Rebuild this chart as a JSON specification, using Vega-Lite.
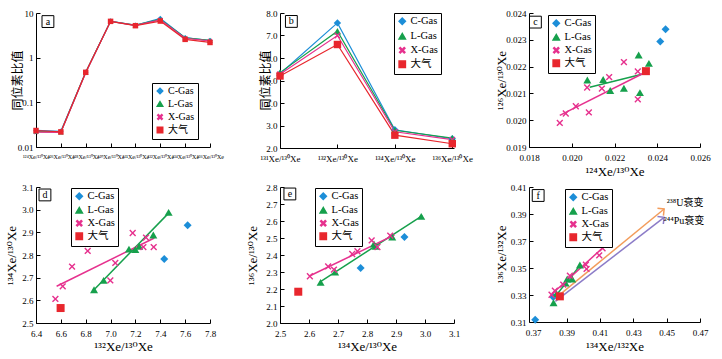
{
 "$schema": "https://vega.github.io/schema/vega-lite/v6.json",
 "background": "white",
 "padding": {"left": 5, "top": 9, "right": 2, "bottom": 2},
 "datasets": {
  "a": [
   {"type": "C-Gas", "x": 1, "y": 0.0235}, {"type": "C-Gas", "x": 2, "y": 0.0225}, {"type": "C-Gas", "x": 3, "y": 0.47}, {"type": "C-Gas", "x": 4, "y": 6.6}, {"type": "C-Gas", "x": 5, "y": 5.3}, {"type": "C-Gas", "x": 6, "y": 7.56}, {"type": "C-Gas", "x": 7, "y": 2.81}, {"type": "C-Gas", "x": 8, "y": 2.41},
   {"type": "L-Gas", "x": 1, "y": 0.0222}, {"type": "L-Gas", "x": 2, "y": 0.0215}, {"type": "L-Gas", "x": 3, "y": 0.47}, {"type": "L-Gas", "x": 4, "y": 6.5}, {"type": "L-Gas", "x": 5, "y": 5.35}, {"type": "L-Gas", "x": 6, "y": 7.19}, {"type": "L-Gas", "x": 7, "y": 2.79}, {"type": "L-Gas", "x": 8, "y": 2.44},
   {"type": "X-Gas", "x": 1, "y": 0.0215}, {"type": "X-Gas", "x": 2, "y": 0.0212}, {"type": "X-Gas", "x": 3, "y": 0.46}, {"type": "X-Gas", "x": 4, "y": 6.5}, {"type": "X-Gas", "x": 5, "y": 5.28}, {"type": "X-Gas", "x": 6, "y": 7.0}, {"type": "X-Gas", "x": 7, "y": 2.72}, {"type": "X-Gas", "x": 8, "y": 2.37},
   {"type": "大气", "x": 1, "y": 0.0234}, {"type": "大气", "x": 2, "y": 0.0218}, {"type": "大气", "x": 3, "y": 0.47}, {"type": "大气", "x": 4, "y": 6.5}, {"type": "大气", "x": 5, "y": 5.2}, {"type": "大气", "x": 6, "y": 6.6}, {"type": "大气", "x": 7, "y": 2.57}, {"type": "大气", "x": 8, "y": 2.19}
  ],
  "b": [
   {"type": "C-Gas", "x": 1, "y": 5.3}, {"type": "C-Gas", "x": 2, "y": 7.56}, {"type": "C-Gas", "x": 3, "y": 2.81}, {"type": "C-Gas", "x": 4, "y": 2.41},
   {"type": "L-Gas", "x": 1, "y": 5.35}, {"type": "L-Gas", "x": 2, "y": 7.19}, {"type": "L-Gas", "x": 3, "y": 2.79}, {"type": "L-Gas", "x": 4, "y": 2.44},
   {"type": "X-Gas", "x": 1, "y": 5.28}, {"type": "X-Gas", "x": 2, "y": 7.0}, {"type": "X-Gas", "x": 3, "y": 2.72}, {"type": "X-Gas", "x": 4, "y": 2.37},
   {"type": "大气", "x": 1, "y": 5.2}, {"type": "大气", "x": 2, "y": 6.6}, {"type": "大气", "x": 3, "y": 2.57}, {"type": "大气", "x": 4, "y": 2.19}
  ],
  "c": [
   {"type": "C-Gas", "x": 0.02439, "y": 0.02339}, {"type": "C-Gas", "x": 0.02414, "y": 0.02294},
   {"type": "L-Gas", "x": 0.02073, "y": 0.0215}, {"type": "L-Gas", "x": 0.02147, "y": 0.02152}, {"type": "L-Gas", "x": 0.0218, "y": 0.02111}, {"type": "L-Gas", "x": 0.02244, "y": 0.02119}, {"type": "L-Gas", "x": 0.02313, "y": 0.02243}, {"type": "L-Gas", "x": 0.02319, "y": 0.02103}, {"type": "L-Gas", "x": 0.02361, "y": 0.02212},
   {"type": "X-Gas", "x": 0.01944, "y": 0.0199}, {"type": "X-Gas", "x": 0.01972, "y": 0.02025}, {"type": "X-Gas", "x": 0.02019, "y": 0.02052}, {"type": "X-Gas", "x": 0.0208, "y": 0.02029}, {"type": "X-Gas", "x": 0.02072, "y": 0.02122}, {"type": "X-Gas", "x": 0.02141, "y": 0.02118}, {"type": "X-Gas", "x": 0.02175, "y": 0.02161}, {"type": "X-Gas", "x": 0.02244, "y": 0.02217}, {"type": "X-Gas", "x": 0.02309, "y": 0.02182}, {"type": "X-Gas", "x": 0.02309, "y": 0.02078},
   {"type": "大气", "x": 0.02347, "y": 0.02183}
  ],
  "cfit": [
   {"type": "L-Gas", "x": 0.02084, "y": 0.02123}, {"type": "L-Gas", "x": 0.02347, "y": 0.02175},
   {"type": "X-Gas", "x": 0.01944, "y": 0.02018}, {"type": "X-Gas", "x": 0.02347, "y": 0.0218}
  ],
  "d": [
   {"type": "C-Gas", "x": 7.62, "y": 2.931}, {"type": "C-Gas", "x": 7.432, "y": 2.782},
   {"type": "L-Gas", "x": 6.867, "y": 2.647}, {"type": "L-Gas", "x": 6.944, "y": 2.688}, {"type": "L-Gas", "x": 7.148, "y": 2.826}, {"type": "L-Gas", "x": 7.199, "y": 2.824}, {"type": "L-Gas", "x": 7.231, "y": 2.838}, {"type": "L-Gas", "x": 7.344, "y": 2.888}, {"type": "L-Gas", "x": 7.467, "y": 2.988},
   {"type": "X-Gas", "x": 6.556, "y": 2.606}, {"type": "X-Gas", "x": 6.615, "y": 2.662}, {"type": "X-Gas", "x": 6.69, "y": 2.749}, {"type": "X-Gas", "x": 6.816, "y": 2.818}, {"type": "X-Gas", "x": 7.038, "y": 2.765}, {"type": "X-Gas", "x": 6.998, "y": 2.688}, {"type": "X-Gas", "x": 7.178, "y": 2.897}, {"type": "X-Gas", "x": 7.264, "y": 2.835}, {"type": "X-Gas", "x": 7.285, "y": 2.877}, {"type": "X-Gas", "x": 7.347, "y": 2.835},
   {"type": "大气", "x": 6.598, "y": 2.566}
  ],
  "dfit": [
   {"type": "L-Gas", "x": 6.867, "y": 2.647}, {"type": "L-Gas", "x": 7.473, "y": 2.988},
   {"type": "X-Gas", "x": 6.566, "y": 2.662}, {"type": "X-Gas", "x": 7.352, "y": 2.875}
  ],
  "e": [
   {"type": "C-Gas", "x": 2.929, "y": 2.506}, {"type": "C-Gas", "x": 2.778, "y": 2.324},
   {"type": "L-Gas", "x": 2.64, "y": 2.239}, {"type": "L-Gas", "x": 2.69, "y": 2.3}, {"type": "L-Gas", "x": 2.824, "y": 2.465}, {"type": "L-Gas", "x": 2.83, "y": 2.451}, {"type": "L-Gas", "x": 2.887, "y": 2.506}, {"type": "L-Gas", "x": 2.987, "y": 2.627},
   {"type": "X-Gas", "x": 2.603, "y": 2.275}, {"type": "X-Gas", "x": 2.666, "y": 2.333}, {"type": "X-Gas", "x": 2.686, "y": 2.314}, {"type": "X-Gas", "x": 2.749, "y": 2.406}, {"type": "X-Gas", "x": 2.767, "y": 2.422}, {"type": "X-Gas", "x": 2.816, "y": 2.486}, {"type": "X-Gas", "x": 2.836, "y": 2.447}, {"type": "X-Gas", "x": 2.88, "y": 2.514},
   {"type": "大气", "x": 2.563, "y": 2.184}
  ],
  "efit": [
   {"type": "L-Gas", "x": 2.637, "y": 2.241}, {"type": "L-Gas", "x": 2.991, "y": 2.631},
   {"type": "X-Gas", "x": 2.6, "y": 2.275}, {"type": "X-Gas", "x": 2.895, "y": 2.518}
  ],
  "f": [
   {"type": "C-Gas", "x": 0.3712, "y": 0.3117}, {"type": "C-Gas", "x": 0.382, "y": 0.3285},
   {"type": "L-Gas", "x": 0.3822, "y": 0.3243}, {"type": "L-Gas", "x": 0.384, "y": 0.331}, {"type": "L-Gas", "x": 0.3894, "y": 0.3389}, {"type": "L-Gas", "x": 0.3904, "y": 0.3419}, {"type": "L-Gas", "x": 0.3934, "y": 0.3419}, {"type": "L-Gas", "x": 0.398, "y": 0.3522},
   {"type": "X-Gas", "x": 0.381, "y": 0.3302}, {"type": "X-Gas", "x": 0.383, "y": 0.3332}, {"type": "X-Gas", "x": 0.388, "y": 0.3377}, {"type": "X-Gas", "x": 0.392, "y": 0.3443}, {"type": "X-Gas", "x": 0.4016, "y": 0.3525}, {"type": "X-Gas", "x": 0.402, "y": 0.3493}, {"type": "X-Gas", "x": 0.4096, "y": 0.3594}, {"type": "X-Gas", "x": 0.4116, "y": 0.3646},
   {"type": "大气", "x": 0.386, "y": 0.329}
  ],
  "ffit": [
   {"type": "L-Gas", "x": 0.382, "y": 0.327}, {"type": "L-Gas", "x": 0.3986, "y": 0.3527},
   {"type": "X-Gas", "x": 0.3806, "y": 0.33}, {"type": "X-Gas", "x": 0.412, "y": 0.3653}
  ],
  "farrow": [
   {"name": "U", "x": 0.3827, "y": 0.327, "end": 0}, {"name": "U", "x": 0.4485, "y": 0.3937, "end": 1},
   {"name": "Pu", "x": 0.3833, "y": 0.3253, "end": 0}, {"name": "Pu", "x": 0.4485, "y": 0.3875, "end": 1}
  ],
  "ftext": [
   {"name": "U", "x": 0.4501, "y": 0.3981, "t": "²³⁸U衰变"},
   {"name": "Pu", "x": 0.4483, "y": 0.3848, "t": "²⁴⁴Pu衰变"}
  ],
  "la": [{"x": 1.48, "y": 6.43, "t": "a"}],
  "lb": [{"x": 1.198, "y": 7.625, "t": "b"}],
  "lc": [{"x": 0.0183, "y": 0.02366, "t": "c"}],
  "ld": [{"x": 6.472, "y": 3.065, "t": "d"}],
  "le": [{"x": 2.534, "y": 2.759, "t": "e"}],
  "lf": [{"x": 0.373, "y": 0.4037, "t": "f"}]
 },
 "columns": 3,
 "align": "each",
 "spacing": {"row": 5, "column": 22},
 "resolve": {
  "scale": {"color": "independent", "shape": "independent"},
  "legend": {"color": "independent", "shape": "independent"}
 },
 "concat": [
  {
   "width": 174, "height": 134,
   "layer": [
    {"data": {"name": "a"}, "mark": {"type": "line", "strokeWidth": 1.2},
     "encoding": {
      "x": {"field": "x", "type": "quantitative", "scale": {"domain": [1, 8], "nice": false, "zero": false},
            "axis": {"title": null, "values": [1, 2, 3, 4, 5, 6, 7, 8], "tickCount": 30, "labelFontSize": 6, "labelOverlap": false, "labelFlush": false, "labelExpr": "['¹²⁴Xe/¹³⁰Xe','¹²⁶Xe/¹³⁰Xe','¹²⁸Xe/¹³⁰Xe','¹²⁹Xe/¹³⁰Xe','¹³¹Xe/¹³⁰Xe','¹³²Xe/¹³⁰Xe','¹³⁴Xe/¹³⁰Xe','¹³⁶Xe/¹³⁰Xe'][datum.value-1]"}},
      "y": {"field": "y", "type": "quantitative", "scale": {"type": "log", "domain": [0.01, 10], "nice": false},
            "axis": {"title": "同位素比值", "titleFont": "Noto Sans CJK SC", "titleFontSize": 12, "titleX": -19, "titleY": 67, "titleBaseline": "middle", "values": [0.01, 0.1, 1, 10], "tickCount": 30, "format": "~g", "labelOverlap": false}},
      "color": {"field": "type", "type": "nominal", "scale": {"domain": ["C-Gas", "L-Gas", "X-Gas", "大气"], "range": ["#1c8ed8", "#16a04c", "#e6318e", "#e8262d"]}}
     }},
    {"data": {"name": "a"}, "mark": {"type": "point", "filled": true, "size": 30, "opacity": 1},
     "encoding": {
      "x": {"field": "x", "type": "quantitative"},
      "y": {"field": "y", "type": "quantitative"},
      "color": {"field": "type", "type": "nominal", "legend": {"title": null, "orient": "none", "legendX": 116, "legendY": 70, "strokeColor": "black", "fillColor": "white", "padding": 3, "labelFont": "Liberation Serif, Noto Sans CJK SC", "labelFontSize": 10, "symbolSize": 30, "rowPadding": 1, "labelOffset": 3}},
      "shape": {"field": "type", "type": "nominal", "scale": {"domain": ["C-Gas", "L-Gas", "X-Gas", "大气"], "range": ["diamond", "triangle-up", "M-0.85,-0.6L-0.6,-0.85L0,-0.25L0.6,-0.85L0.85,-0.6L0.25,0L0.85,0.6L0.6,0.85L0,0.25L-0.6,0.85L-0.85,0.6L-0.25,0Z", "square"]}, "legend": {"title": null, "orient": "none", "legendX": 116, "legendY": 70, "strokeColor": "black", "fillColor": "white", "padding": 3, "labelFont": "Liberation Serif, Noto Sans CJK SC", "labelFontSize": 10, "symbolSize": 30, "rowPadding": 1, "labelOffset": 3}}
     }},
    {"data": {"name": "la"}, "mark": {"type": "point", "shape": "square", "filled": false, "stroke": "black", "strokeWidth": 1, "size": 140, "opacity": 1},
     "encoding": {"x": {"field": "x", "type": "quantitative"}, "y": {"field": "y", "type": "quantitative"}}},
    {"data": {"name": "la"}, "mark": {"type": "text", "fontSize": 10, "font": "Liberation Serif", "color": "black"},
     "encoding": {"x": {"field": "x", "type": "quantitative"}, "y": {"field": "y", "type": "quantitative"}, "text": {"field": "t"}}}
   ]
  },
  {
   "width": 174, "height": 135,
   "layer": [
    {"data": {"name": "b"}, "mark": {"type": "line", "strokeWidth": 1.2},
     "encoding": {
      "x": {"field": "x", "type": "quantitative", "scale": {"domain": [1, 4.03], "nice": false, "zero": false},
            "axis": {"title": null, "values": [1, 2, 3, 4], "tickCount": 30, "labelFontSize": 9, "labelOverlap": false, "labelFlush": false, "labelExpr": "['¹³¹Xe/¹³⁰Xe','¹³²Xe/¹³⁰Xe','¹³⁴Xe/¹³⁰Xe','¹³⁶Xe/¹³⁰Xe'][datum.value-1]"}},
      "y": {"field": "y", "type": "quantitative", "scale": {"domain": [2, 8], "nice": false, "zero": false},
            "axis": {"title": "同位素比值", "titleFont": "Noto Sans CJK SC", "titleFontSize": 12, "titleX": -15, "titleY": 67, "titleBaseline": "middle", "values": [2, 3, 4, 5, 6, 7, 8], "tickCount": 30, "labelOverlap": false}},
      "color": {"field": "type", "type": "nominal", "scale": {"domain": ["C-Gas", "L-Gas", "X-Gas", "大气"], "range": ["#1c8ed8", "#16a04c", "#e6318e", "#e8262d"]}}
     }},
    {"data": {"name": "b"}, "mark": {"type": "point", "filled": true, "size": 55, "opacity": 1},
     "encoding": {
      "x": {"field": "x", "type": "quantitative"},
      "y": {"field": "y", "type": "quantitative"},
      "color": {"field": "type", "type": "nominal", "legend": {"title": null, "orient": "none", "legendX": 114, "legendY": 0, "strokeColor": "black", "fillColor": "white", "padding": 3, "labelFont": "Liberation Serif, Noto Sans CJK SC", "labelFontSize": 10.5, "symbolSize": 40, "rowPadding": 2, "labelOffset": 3}},
      "shape": {"field": "type", "type": "nominal", "scale": {"domain": ["C-Gas", "L-Gas", "X-Gas", "大气"], "range": ["diamond", "triangle-up", "M-0.85,-0.6L-0.6,-0.85L0,-0.25L0.6,-0.85L0.85,-0.6L0.25,0L0.85,0.6L0.6,0.85L0,0.25L-0.6,0.85L-0.85,0.6L-0.25,0Z", "square"]}, "legend": {"title": null, "orient": "none", "legendX": 114, "legendY": 0, "strokeColor": "black", "fillColor": "white", "padding": 3, "labelFont": "Liberation Serif, Noto Sans CJK SC", "labelFontSize": 10.5, "symbolSize": 40, "rowPadding": 2, "labelOffset": 3}}
     }},
    {"data": {"name": "lb"}, "mark": {"type": "point", "shape": "square", "filled": false, "stroke": "black", "strokeWidth": 1, "size": 140, "opacity": 1},
     "encoding": {"x": {"field": "x", "type": "quantitative"}, "y": {"field": "y", "type": "quantitative"}}},
    {"data": {"name": "lb"}, "mark": {"type": "text", "fontSize": 10, "font": "Liberation Serif", "color": "black"},
     "encoding": {"x": {"field": "x", "type": "quantitative"}, "y": {"field": "y", "type": "quantitative"}, "text": {"field": "t"}}}
   ]
  },
  {
   "width": 171, "height": 134,
   "layer": [
    {"data": {"name": "cfit"}, "mark": {"type": "line", "strokeWidth": 1.5},
     "encoding": {
      "x": {"field": "x", "type": "quantitative", "scale": {"domain": [0.018, 0.026], "nice": false, "zero": false},
            "axis": {"title": "¹²⁴Xe/¹³⁰Xe", "titleX": 85.5, "titleY": 24, "titleBaseline": "middle", "values": [0.018, 0.02, 0.022, 0.024, 0.026], "tickCount": 30, "format": ".3f", "labelOverlap": false, "labelFlush": false}},
      "y": {"field": "y", "type": "quantitative", "scale": {"domain": [0.019, 0.024], "nice": false, "zero": false},
            "axis": {"title": "¹²⁶Xe/¹³⁰Xe", "titleX": -27.5, "titleY": 67, "titleBaseline": "middle", "values": [0.019, 0.02, 0.021, 0.022, 0.023, 0.024], "tickCount": 30, "format": ".3f", "labelOverlap": false}},
      "color": {"field": "type", "type": "nominal", "scale": {"domain": ["C-Gas", "L-Gas", "X-Gas", "大气"], "range": ["#1c8ed8", "#16a04c", "#e6318e", "#e8262d"]}}
     }},
    {"data": {"name": "c"}, "mark": {"type": "point", "filled": true, "size": 64, "opacity": 1},
     "encoding": {
      "x": {"field": "x", "type": "quantitative"},
      "y": {"field": "y", "type": "quantitative"},
      "color": {"field": "type", "type": "nominal", "legend": {"title": null, "orient": "none", "legendX": 19, "legendY": 2, "strokeColor": "black", "fillColor": "white", "padding": 3, "labelFont": "Liberation Serif, Noto Sans CJK SC", "labelFontSize": 10.5, "symbolSize": 40, "rowPadding": 1, "labelOffset": 3}},
      "shape": {"field": "type", "type": "nominal", "scale": {"domain": ["C-Gas", "L-Gas", "X-Gas", "大气"], "range": ["diamond", "triangle-up", "M-0.85,-0.6L-0.6,-0.85L0,-0.25L0.6,-0.85L0.85,-0.6L0.25,0L0.85,0.6L0.6,0.85L0,0.25L-0.6,0.85L-0.85,0.6L-0.25,0Z", "square"]}, "legend": {"title": null, "orient": "none", "legendX": 19, "legendY": 2, "strokeColor": "black", "fillColor": "white", "padding": 3, "labelFont": "Liberation Serif, Noto Sans CJK SC", "labelFontSize": 10.5, "symbolSize": 40, "rowPadding": 1, "labelOffset": 3}}
     }},
    {"data": {"name": "lc"}, "mark": {"type": "point", "shape": "square", "filled": false, "stroke": "black", "strokeWidth": 1, "size": 140, "opacity": 1},
     "encoding": {"x": {"field": "x", "type": "quantitative"}, "y": {"field": "y", "type": "quantitative"}}},
    {"data": {"name": "lc"}, "mark": {"type": "text", "fontSize": 10, "font": "Liberation Serif", "color": "black"},
     "encoding": {"x": {"field": "x", "type": "quantitative"}, "y": {"field": "y", "type": "quantitative"}, "text": {"field": "t"}}}
   ]
  },
  {
   "width": 174, "height": 136,
   "layer": [
    {"data": {"name": "dfit"}, "mark": {"type": "line", "strokeWidth": 1.5},
     "encoding": {
      "x": {"field": "x", "type": "quantitative", "scale": {"domain": [6.4, 7.8], "nice": false, "zero": false},
            "axis": {"title": "¹³²Xe/¹³⁰Xe", "titleX": 87, "titleY": 23, "titleBaseline": "middle", "values": [6.4, 6.6, 6.8, 7.0, 7.2, 7.4, 7.6, 7.8], "tickCount": 30, "format": ".1f", "labelOverlap": false, "labelFlush": false}},
      "y": {"field": "y", "type": "quantitative", "scale": {"domain": [2.5, 3.1], "nice": false, "zero": false},
            "axis": {"title": "¹³⁴Xe/¹³⁰Xe", "titleX": -25, "titleY": 68, "titleBaseline": "middle", "values": [2.5, 2.6, 2.7, 2.8, 2.9, 3.0, 3.1], "tickCount": 30, "format": ".1f", "labelOverlap": false}},
      "color": {"field": "type", "type": "nominal", "scale": {"domain": ["C-Gas", "L-Gas", "X-Gas", "大气"], "range": ["#1c8ed8", "#16a04c", "#e6318e", "#e8262d"]}}
     }},
    {"data": {"name": "d"}, "mark": {"type": "point", "filled": true, "size": 64, "opacity": 1},
     "encoding": {
      "x": {"field": "x", "type": "quantitative"},
      "y": {"field": "y", "type": "quantitative"},
      "color": {"field": "type", "type": "nominal", "legend": {"title": null, "orient": "none", "legendX": 35, "legendY": 1, "strokeColor": "black", "fillColor": "white", "padding": 3, "labelFont": "Liberation Serif, Noto Sans CJK SC", "labelFontSize": 10.5, "symbolSize": 40, "rowPadding": 1, "labelOffset": 3}},
      "shape": {"field": "type", "type": "nominal", "scale": {"domain": ["C-Gas", "L-Gas", "X-Gas", "大气"], "range": ["diamond", "triangle-up", "M-0.85,-0.6L-0.6,-0.85L0,-0.25L0.6,-0.85L0.85,-0.6L0.25,0L0.85,0.6L0.6,0.85L0,0.25L-0.6,0.85L-0.85,0.6L-0.25,0Z", "square"]}, "legend": {"title": null, "orient": "none", "legendX": 35, "legendY": 1, "strokeColor": "black", "fillColor": "white", "padding": 3, "labelFont": "Liberation Serif, Noto Sans CJK SC", "labelFontSize": 10.5, "symbolSize": 40, "rowPadding": 1, "labelOffset": 3}}
     }},
    {"data": {"name": "ld"}, "mark": {"type": "point", "shape": "square", "filled": false, "stroke": "black", "strokeWidth": 1, "size": 140, "opacity": 1},
     "encoding": {"x": {"field": "x", "type": "quantitative"}, "y": {"field": "y", "type": "quantitative"}}},
    {"data": {"name": "ld"}, "mark": {"type": "text", "fontSize": 10, "font": "Liberation Serif", "color": "black"},
     "encoding": {"x": {"field": "x", "type": "quantitative"}, "y": {"field": "y", "type": "quantitative"}, "text": {"field": "t"}}}
   ]
  },
  {
   "width": 174, "height": 136,
   "layer": [
    {"data": {"name": "efit"}, "mark": {"type": "line", "strokeWidth": 1.5},
     "encoding": {
      "x": {"field": "x", "type": "quantitative", "scale": {"domain": [2.5, 3.1], "nice": false, "zero": false},
            "axis": {"title": "¹³⁴Xe/¹³⁰Xe", "titleX": 87, "titleY": 23, "titleBaseline": "middle", "values": [2.5, 2.6, 2.7, 2.8, 2.9, 3.0, 3.1], "tickCount": 30, "format": ".1f", "labelOverlap": false, "labelFlush": false}},
      "y": {"field": "y", "type": "quantitative", "scale": {"domain": [2.0, 2.8], "nice": false, "zero": false},
            "axis": {"title": "¹³⁶Xe/¹³⁰Xe", "titleX": -27.5, "titleY": 68, "titleBaseline": "middle", "values": [2.0, 2.1, 2.2, 2.3, 2.4, 2.5, 2.6, 2.7, 2.8], "tickCount": 30, "format": ".1f", "labelOverlap": false}},
      "color": {"field": "type", "type": "nominal", "scale": {"domain": ["C-Gas", "L-Gas", "X-Gas", "大气"], "range": ["#1c8ed8", "#16a04c", "#e6318e", "#e8262d"]}}
     }},
    {"data": {"name": "e"}, "mark": {"type": "point", "filled": true, "size": 64, "opacity": 1},
     "encoding": {
      "x": {"field": "x", "type": "quantitative"},
      "y": {"field": "y", "type": "quantitative"},
      "color": {"field": "type", "type": "nominal", "legend": {"title": null, "orient": "none", "legendX": 35, "legendY": 1, "strokeColor": "black", "fillColor": "white", "padding": 3, "labelFont": "Liberation Serif, Noto Sans CJK SC", "labelFontSize": 10.5, "symbolSize": 40, "rowPadding": 1, "labelOffset": 3}},
      "shape": {"field": "type", "type": "nominal", "scale": {"domain": ["C-Gas", "L-Gas", "X-Gas", "大气"], "range": ["diamond", "triangle-up", "M-0.85,-0.6L-0.6,-0.85L0,-0.25L0.6,-0.85L0.85,-0.6L0.25,0L0.85,0.6L0.6,0.85L0,0.25L-0.6,0.85L-0.85,0.6L-0.25,0Z", "square"]}, "legend": {"title": null, "orient": "none", "legendX": 35, "legendY": 1, "strokeColor": "black", "fillColor": "white", "padding": 3, "labelFont": "Liberation Serif, Noto Sans CJK SC", "labelFontSize": 10.5, "symbolSize": 40, "rowPadding": 1, "labelOffset": 3}}
     }},
    {"data": {"name": "le"}, "mark": {"type": "point", "shape": "square", "filled": false, "stroke": "black", "strokeWidth": 1, "size": 140, "opacity": 1},
     "encoding": {"x": {"field": "x", "type": "quantitative"}, "y": {"field": "y", "type": "quantitative"}}},
    {"data": {"name": "le"}, "mark": {"type": "text", "fontSize": 10, "font": "Liberation Serif", "color": "black"},
     "encoding": {"x": {"field": "x", "type": "quantitative"}, "y": {"field": "y", "type": "quantitative"}, "text": {"field": "t"}}}
   ]
  },
  {
   "width": 171, "height": 135,
   "layer": [
    {"data": {"name": "ffit"}, "mark": {"type": "line", "strokeWidth": 1.5},
     "encoding": {
      "x": {"field": "x", "type": "quantitative", "scale": {"domain": [0.3675, 0.47], "nice": false, "zero": false},
            "axis": {"title": "¹³⁴Xe/¹³²Xe", "titleX": 85.5, "titleY": 24, "titleBaseline": "middle", "values": [0.37, 0.39, 0.41, 0.43, 0.45, 0.47], "tickCount": 30, "format": ".2f", "labelOverlap": false, "labelFlush": false}},
      "y": {"field": "y", "type": "quantitative", "scale": {"domain": [0.31, 0.41], "nice": false, "zero": false},
            "axis": {"title": "¹³⁶Xe/¹³²Xe", "titleX": -27.5, "titleY": 67, "titleBaseline": "middle", "values": [0.31, 0.33, 0.35, 0.37, 0.39, 0.41], "tickCount": 30, "format": ".2f", "labelOverlap": false}},
      "color": {"field": "type", "type": "nominal", "scale": {"domain": ["C-Gas", "L-Gas", "X-Gas", "大气"], "range": ["#1c8ed8", "#16a04c", "#e6318e", "#e8262d"]}}
     }},
    {"data": {"name": "farrow"}, "transform": [{"filter": "datum.name === 'U'"}], "mark": {"type": "line", "strokeWidth": 1.5, "color": "#f39c5b"},
     "encoding": {"x": {"field": "x", "type": "quantitative"}, "y": {"field": "y", "type": "quantitative"}}},
    {"data": {"name": "farrow"}, "transform": [{"filter": "datum.name === 'Pu'"}], "mark": {"type": "line", "strokeWidth": 1.5, "color": "#8c7cc8"},
     "encoding": {"x": {"field": "x", "type": "quantitative"}, "y": {"field": "y", "type": "quantitative"}}},
    {"data": {"name": "farrow"}, "transform": [{"filter": "datum.name === 'U' && datum.end === 1"}], "mark": {"type": "point", "shape": "M-1,1L0,0L1,1", "filled": false, "stroke": "#f39c5b", "strokeWidth": 1.5, "size": 90, "angle": 51, "opacity": 1},
     "encoding": {"x": {"field": "x", "type": "quantitative"}, "y": {"field": "y", "type": "quantitative"}}},
    {"data": {"name": "farrow"}, "transform": [{"filter": "datum.name === 'Pu' && datum.end === 1"}], "mark": {"type": "point", "shape": "M-1,1L0,0L1,1", "filled": false, "stroke": "#8c7cc8", "strokeWidth": 1.5, "size": 90, "angle": 52, "opacity": 1},
     "encoding": {"x": {"field": "x", "type": "quantitative"}, "y": {"field": "y", "type": "quantitative"}}},
    {"data": {"name": "ftext"}, "mark": {"type": "text", "align": "left", "baseline": "middle", "fontSize": 10, "font": "Liberation Serif, Noto Sans CJK SC", "color": "black"},
     "encoding": {"x": {"field": "x", "type": "quantitative"}, "y": {"field": "y", "type": "quantitative"}, "text": {"field": "t"}}},
    {"data": {"name": "f"}, "mark": {"type": "point", "filled": true, "size": 64, "opacity": 1},
     "encoding": {
      "x": {"field": "x", "type": "quantitative"},
      "y": {"field": "y", "type": "quantitative"},
      "color": {"field": "type", "type": "nominal", "legend": {"title": null, "orient": "none", "legendX": 36, "legendY": 2, "strokeColor": "black", "fillColor": "white", "padding": 3, "labelFont": "Liberation Serif, Noto Sans CJK SC", "labelFontSize": 10.5, "symbolSize": 40, "rowPadding": 1, "labelOffset": 3}},
      "shape": {"field": "type", "type": "nominal", "scale": {"domain": ["C-Gas", "L-Gas", "X-Gas", "大气"], "range": ["diamond", "triangle-up", "M-0.85,-0.6L-0.6,-0.85L0,-0.25L0.6,-0.85L0.85,-0.6L0.25,0L0.85,0.6L0.6,0.85L0,0.25L-0.6,0.85L-0.85,0.6L-0.25,0Z", "square"]}, "legend": {"title": null, "orient": "none", "legendX": 36, "legendY": 2, "strokeColor": "black", "fillColor": "white", "padding": 3, "labelFont": "Liberation Serif, Noto Sans CJK SC", "labelFontSize": 10.5, "symbolSize": 40, "rowPadding": 1, "labelOffset": 3}}
     }},
    {"data": {"name": "lf"}, "mark": {"type": "point", "shape": "square", "filled": false, "stroke": "black", "strokeWidth": 1, "size": 140, "opacity": 1},
     "encoding": {"x": {"field": "x", "type": "quantitative"}, "y": {"field": "y", "type": "quantitative"}}},
    {"data": {"name": "lf"}, "mark": {"type": "text", "fontSize": 10, "font": "Liberation Serif", "color": "black"},
     "encoding": {"x": {"field": "x", "type": "quantitative"}, "y": {"field": "y", "type": "quantitative"}, "text": {"field": "t"}}}
   ]
  }
 ],
 "config": {
  "view": {"stroke": null},
  "font": "Liberation Serif",
  "axis": {"grid": false, "domainColor": "black", "domainWidth": 1, "tickColor": "black", "tickSize": -4, "labelPadding": 7, "labelOverlap": false, "labelFlush": false, "labelFont": "Liberation Serif", "labelFontSize": 9, "labelColor": "black", "titleFont": "Liberation Serif, DejaVu Serif", "titleFontSize": 13, "titleFontWeight": "normal", "titleColor": "black"},
  "axisX": {"labelPadding": 10}
 }
}
